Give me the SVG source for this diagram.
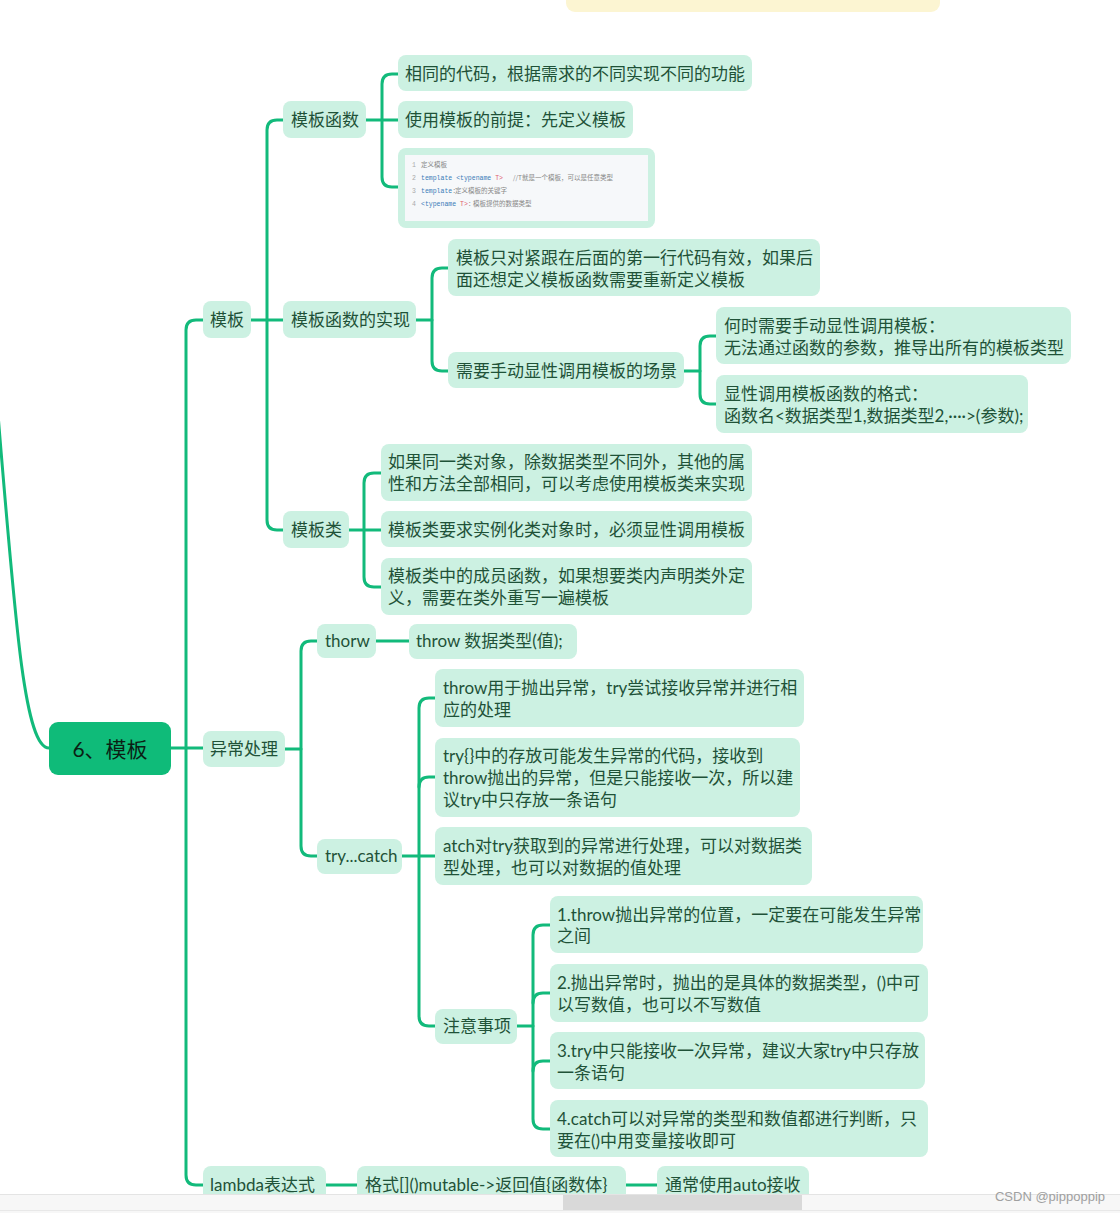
<svg xmlns="http://www.w3.org/2000/svg" width="1120" height="1213" viewBox="0 0 1120 1213">
<style>
.n{fill:#ccf1e2}
.t{font-family:Lato,"Noto Sans CJK SC","Noto Sans",sans-serif;font-size:17px;fill:#1f5238}
.c{fill:none;stroke:#12ba7b;stroke-width:3;stroke-linecap:round}
.m{font-family:"Liberation Mono",monospace;font-size:6.5px}
.mc{font-family:"Noto Sans CJK SC",sans-serif;font-size:6.5px;fill:#888}
.ln{fill:#aaa}
.kw{fill:#3b7cb8}
.rd{fill:#e0606e}
</style>
<rect width="1120" height="1213" fill="#ffffff"/>
<rect x="566" y="-14" width="374" height="26" rx="9" fill="#fcf5d2"/>

<g id="connectors">
<path class="c" d="M-4 390 C15 620 24 748 49 748"/>
<path class="c" d="M171 748 H203"/>
<path class="c" d="M203 320 H196 Q186 320 186 330 V1175 Q186 1185 196 1185 H203"/>
<path class="c" d="M251 320 H283"/>
<path class="c" d="M283 120 H277 Q267 120 267 130 V520 Q267 530 277 530 H283"/>
<path class="c" d="M366 120 H398"/>
<path class="c" d="M398 74 H392 Q382 74 382 84 V177 Q382 187 392 187 H398"/>
<path class="c" d="M416 320 H432"/>
<path class="c" d="M448 268 H442 Q432 268 432 278 V361 Q432 371 442 371 H448"/>
<path class="c" d="M684 371 H700"/>
<path class="c" d="M716 336 H710 Q700 336 700 346 V394 Q700 404 710 404 H716"/>
<path class="c" d="M349 530 H381"/>
<path class="c" d="M381 473 H374 Q364 473 364 483 V577 Q364 587 374 587 H381"/>
<path class="c" d="M285 749 H301"/>
<path class="c" d="M317 641 H311 Q301 641 301 651 V846 Q301 856 311 856 H317"/>
<path class="c" d="M376 641 H409"/>
<path class="c" d="M402 856 H435"/>
<path class="c" d="M435 698 H429 Q419 698 419 708 V1016 Q419 1026 429 1026 H435"/>
<path class="c" d="M419 787 Q419 777 429 777 H435"/>
<path class="c" d="M517 1026 H533"/>
<path class="c" d="M550 925 H543 Q533 925 533 935 V1119 Q533 1129 543 1129 H550"/>
<path class="c" d="M533 1003 Q533 993 543 993 H550"/>
<path class="c" d="M533 1071 Q533 1061 543 1061 H550"/>
<path class="c" d="M326 1185 H357"/>
<path class="c" d="M626 1185 H657"/>
</g>

<g id="root">
<rect x="49" y="722" width="122" height="53" rx="9" fill="#0fbb79"/>
<text x="110" y="757" text-anchor="middle" font-family="Lato, Noto Sans CJK SC, sans-serif" font-size="21" fill="#0b1f14">6、模板</text>
</g>

<g id="n-muban"><rect class="n" x="203" y="301" width="48" height="37" rx="8"/><text class="t" x="210" y="326">模板</text></g>
<g id="n-mbhs"><rect class="n" x="283" y="101" width="83" height="37" rx="8"/><text class="t" x="291" y="126">模板函数</text></g>
<g id="n-same"><rect class="n" x="398" y="55" width="354" height="36" rx="8"/><text class="t" x="405" y="80">相同的代码，根据需求的不同实现不同的功能</text></g>
<g id="n-pre"><rect class="n" x="398" y="101" width="235" height="37" rx="8"/><text class="t" x="405" y="126">使用模板的前提：先定义模板</text></g>
<g id="n-code">
<rect class="n" x="398" y="148" width="257" height="80" rx="8"/>
<rect x="405" y="155" width="243" height="66" fill="#f6f8fa"/>
<text class="m ln" x="412" y="167">1</text><text class="mc" x="421" y="167">定义模板</text>
<text class="m ln" x="412" y="180">2</text><text class="m" x="421" y="180"><tspan class="kw">template</tspan> <tspan class="kw">&lt;typename</tspan> <tspan class="rd">T&gt;</tspan></text><text class="mc" x="513" y="180">//T就是一个模板，可以是任意类型</text>
<text class="m ln" x="412" y="193">3</text><text class="m" x="421" y="193"><tspan class="kw">template</tspan><tspan fill="#888">:</tspan></text><text class="mc" x="455" y="193">定义模板的关键字</text>
<text class="m ln" x="412" y="206">4</text><text class="m" x="421" y="206"><tspan class="kw">&lt;typename</tspan> <tspan class="rd">T&gt;</tspan><tspan fill="#888">:</tspan></text><text class="mc" x="473" y="206">模板提供的数据类型</text>
</g>
<g id="n-impl"><rect class="n" x="283" y="301" width="133" height="37" rx="8"/><text class="t" x="291" y="326">模板函数的实现</text></g>
<g id="n-only"><rect class="n" x="448" y="239" width="372" height="57" rx="8"/><text class="t" x="456" y="264">模板只对紧跟在后面的第一行代码有效，如果后</text><text class="t" x="456" y="286">面还想定义模板函数需要重新定义模板</text></g>
<g id="n-scene"><rect class="n" x="448" y="352" width="236" height="36" rx="8"/><text class="t" x="456" y="377">需要手动显性调用模板的场景</text></g>
<g id="n-when"><rect class="n" x="716" y="307" width="355" height="57" rx="8"/><text class="t" x="724" y="332">何时需要手动显性调用模板：</text><text class="t" x="724" y="354">无法通过函数的参数，推导出所有的模板类型</text></g>
<g id="n-fmt"><rect class="n" x="716" y="375" width="312" height="58" rx="8"/><text class="t" x="724" y="400">显性调用模板函数的格式：</text><text class="t" x="724" y="422">函数名&lt;数据类型1,数据类型2,····&gt;(参数);</text></g>
<g id="n-cls"><rect class="n" x="283" y="511" width="66" height="37" rx="8"/><text class="t" x="291" y="536">模板类</text></g>
<g id="n-cls1"><rect class="n" x="381" y="444" width="371" height="57" rx="8"/><text class="t" x="388" y="468">如果同一类对象，除数据类型不同外，其他的属</text><text class="t" x="388" y="490">性和方法全部相同，可以考虑使用模板类来实现</text></g>
<g id="n-cls2"><rect class="n" x="381" y="511" width="371" height="36" rx="8"/><text class="t" x="388" y="536">模板类要求实例化类对象时，必须显性调用模板</text></g>
<g id="n-cls3"><rect class="n" x="381" y="558" width="371" height="57" rx="8"/><text class="t" x="388" y="582">模板类中的成员函数，如果想要类内声明类外定</text><text class="t" x="388" y="604">义，需要在类外重写一遍模板</text></g>

<g id="n-exc"><rect class="n" x="203" y="731" width="82" height="36" rx="8"/><text class="t" x="210" y="755">异常处理</text></g>
<g id="n-thorw"><rect class="n" x="317" y="624" width="59" height="34" rx="8"/><text class="t" x="325" y="647">thorw</text></g>
<g id="n-throwv"><rect class="n" x="409" y="624" width="168" height="35" rx="8"/><text class="t" x="416" y="647">throw 数据类型(值);</text></g>
<g id="n-try"><rect class="n" x="317" y="839" width="85" height="35" rx="8"/><text class="t" x="325" y="862">try...catch</text></g>
<g id="n-t1"><rect class="n" x="435" y="669" width="369" height="58" rx="8"/><text class="t" x="443" y="694">throw用于抛出异常，try尝试接收异常并进行相</text><text class="t" x="443" y="716">应的处理</text></g>
<g id="n-t2"><rect class="n" x="435" y="738" width="365" height="79" rx="8"/><text class="t" x="443" y="762">try{}中的存放可能发生异常的代码，接收到</text><text class="t" x="443" y="784">throw抛出的异常，但是只能接收一次，所以建</text><text class="t" x="443" y="806">议try中只存放一条语句</text></g>
<g id="n-t3"><rect class="n" x="435" y="827" width="377" height="58" rx="8"/><text class="t" x="443" y="852">atch对try获取到的异常进行处理，可以对数据类</text><text class="t" x="443" y="874">型处理，也可以对数据的值处理</text></g>
<g id="n-note"><rect class="n" x="435" y="1009" width="82" height="35" rx="8"/><text class="t" x="443" y="1032">注意事项</text></g>
<g id="n-k1"><rect class="n" x="550" y="896" width="373" height="57" rx="8"/><text class="t" x="557" y="921">1.throw抛出异常的位置，一定要在可能发生异常</text><text class="t" x="557" y="942">之间</text></g>
<g id="n-k2"><rect class="n" x="550" y="964" width="378" height="58" rx="8"/><text class="t" x="557" y="989">2.抛出异常时，抛出的是具体的数据类型，()中可</text><text class="t" x="557" y="1011">以写数值，也可以不写数值</text></g>
<g id="n-k3"><rect class="n" x="550" y="1032" width="375" height="57" rx="8"/><text class="t" x="557" y="1057">3.try中只能接收一次异常，建议大家try中只存放</text><text class="t" x="557" y="1079">一条语句</text></g>
<g id="n-k4"><rect class="n" x="550" y="1100" width="378" height="57" rx="8"/><text class="t" x="557" y="1125">4.catch可以对异常的类型和数值都进行判断，只</text><text class="t" x="557" y="1147">要在()中用变量接收即可</text></g>

<g id="n-lambda"><rect class="n" x="203" y="1166" width="123" height="40" rx="8"/><text class="t" x="210" y="1191">lambda表达式</text></g>
<g id="n-lfmt"><rect class="n" x="357" y="1166" width="269" height="40" rx="8"/><text class="t" x="365" y="1191">格式[]()mutable-&gt;返回值{函数体}</text></g>
<g id="n-auto"><rect class="n" x="657" y="1166" width="152" height="40" rx="8"/><text class="t" x="665" y="1191">通常使用auto接收</text></g>

<g id="scrollbar">
<rect x="0" y="1194" width="1120" height="19" fill="#f7f7f7"/>
<line x1="0" y1="1194.5" x2="1120" y2="1194.5" stroke="#e4e4e4"/>
<rect x="563" y="1195" width="239" height="15" fill="#d9d9d9"/>
<line x1="0" y1="1210.5" x2="1120" y2="1210.5" stroke="#e8e8e8"/>
</g>
<text x="1105" y="1201" text-anchor="end" font-family="Liberation Sans, sans-serif" font-size="13" fill="#a0a0a0">CSDN @pippoppip</text>
</svg>
